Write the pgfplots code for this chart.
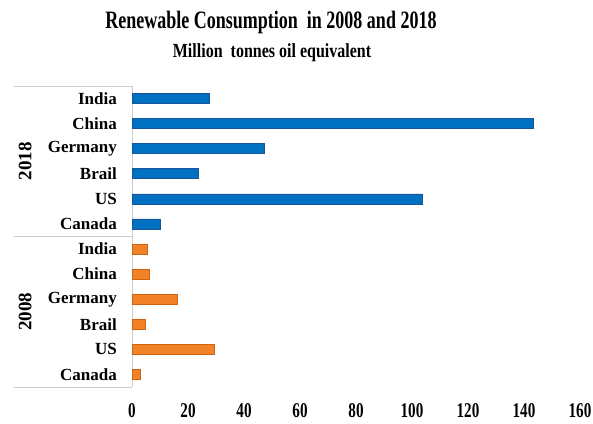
\documentclass[border=0pt]{standalone}
\usepackage{pgfplots}
\pgfplotsset{compat=1.18}
\usepackage{fontspec}
\setmainfont{Liberation Serif}
\definecolor{blueF}{RGB}{0,112,192}
\definecolor{blueD}{RGB}{25,85,155}
\definecolor{orangeF}{RGB}{242,130,40}
\definecolor{orangeD}{RGB}{205,100,20}
\definecolor{sep}{RGB}{205,205,205}
\begin{document}
\begin{tikzpicture}
\useasboundingbox (0,0) rectangle (593pt,-423pt);
\node[anchor=base, xscale=0.72, font=\fontsize{25}{28}\selectfont\bfseries] at (271pt,-28pt) {Renewable Consumption\ \ in 2008 and 2018};
\node[anchor=base, xscale=0.8, font=\fontsize{20}{23}\selectfont\bfseries] at (272pt,-57pt) {Million\ \ tonnes oil equivalent};
\begin{axis}[
  at={(132pt,-387pt)}, anchor=south west,
  scale only axis, width=448pt, height=301pt,
  xbar, bar width=10pt,
  xmin=0, xmax=160, ymin=-0.5, ymax=11.5, y dir=reverse,
  axis y line*=left, axis x line*=bottom,
  x axis line style={draw=none},
  y axis line style={draw=sep, line width=0.8pt},
  major tick length=0pt, tick style={draw=none},
  xtick={0,20,...,160},
  ytick={0,...,11},
  yticklabels={India,China,Germany,Brail,US,Canada,India,China,Germany,Brail,US,Canada},
  yticklabel style={font=\fontsize{17}{20}\selectfont\bfseries, inner sep=0pt, xshift=-15pt},
  xticklabel style={font=\fontsize{21}{24}\selectfont\bfseries, xscale=0.72, inner sep=0pt, yshift=-16pt},
  /pgf/number format/assume math mode=true,
  clip=false,
]
\addplot[fill=blueF, draw=blueD, line width=0.6pt, bar shift=0pt] coordinates {
 (27.5,0) (143.2,1) (47.1,2) (23.5,3) (103.6,4) (10.0,5)
};
\addplot[fill=orangeF, draw=orangeD, line width=0.6pt, bar shift=0pt] coordinates {
 (5.4,6) (6.1,7) (16.3,8) (4.7,9) (29.5,10) (2.8,11)
};
\draw[sep, line width=0.8pt] (axis cs:0,-0.5) -- (axis cs:-42.1,-0.5);
\draw[sep, line width=0.8pt] (axis cs:0,5.5) -- (axis cs:-42.1,5.5);
\draw[sep, line width=0.8pt] (axis cs:0,11.5) -- (axis cs:-42.1,11.5);
\node[rotate=90, font=\fontsize{19}{22}\selectfont\bfseries] at (axis cs:-38.2,2.5) {2018};
\node[rotate=90, font=\fontsize{19}{22}\selectfont\bfseries] at (axis cs:-38.2,8.5) {2008};
\end{axis}
\end{tikzpicture}
\end{document}
